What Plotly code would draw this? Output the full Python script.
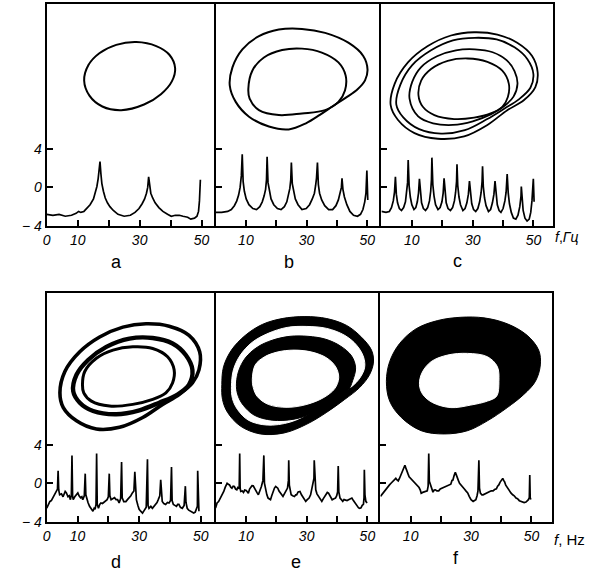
import plotly.graph_objects as go

W, H = 590, 582

# ---------------- spectra: (f [Hz], log amplitude) ----------------
spec_a = [(0,-2.8),(2,-2.9),(4,-2.8),(6,-3.0),(8,-2.9),(9.5,-2.7),(10.3,-2.5),(11,-2.6),(12,-2.5),(13,-2.2),
          (14,-1.8),(15.1,-1.2),(15.8,-0.5),(16.2,0.1),(16.6,0.9),(16.9,1.8),(17.2,2.7),(17.5,1.4),(17.8,0.4),
          (18.3,-0.4),(18.9,-1.1),(19.6,-1.6),(20.4,-2.0),(21.5,-2.4),(23,-2.8),(25,-3.0),(27,-2.9),(28.5,-2.6),
          (29.8,-2.2),(30.8,-1.7),(31.6,-1.2),(32.2,-0.6),(32.6,0.0),(32.9,1.1),(33.2,0.0),(33.6,-0.6),(34.2,-1.1),
          (35,-1.6),(36.2,-2.1),(37.5,-2.5),(39,-2.8),(40.2,-3.0),(41.5,-2.9),(42.8,-2.9),(44,-3.0),(45.5,-3.1),
          (46.5,-3.3),(47.7,-3.2),(48.5,-3.0),(49,-2.5),(49.3,-1.4),(49.6,0.8)]

spec_b = [(0,-2.6),(2,-2.6),(4,-2.5),(5.2,-2.3),(6.2,-1.9),(7.0,-1.4),(7.6,-0.8),(8.1,0.0),(8.5,1.2),(8.8,3.45),
          (9.1,0.6),(9.5,-0.4),(10.1,-1.2),(11,-1.8),(12.3,-2.2),(13.5,-2.3),(14.6,-2.0),(15.4,-1.5),(16.0,-0.9),
          (16.5,-0.2),(16.8,0.8),(17.0,3.2),(17.3,0.5),(17.7,-0.4),(18.3,-1.2),(19.2,-1.8),(20.4,-2.2),(21.6,-2.3),
          (22.7,-2.0),(23.5,-1.5),(24.1,-0.8),(24.5,-0.1),(24.8,0.8),(25.0,2.6),(25.3,0.4),(25.7,-0.4),(26.3,-1.2),
          (27.2,-1.8),(28.5,-2.3),(29.9,-2.2),(31.0,-1.8),(31.9,-1.2),(32.6,-0.6),(33.0,0.2),(33.3,1.0),(33.6,2.6),
          (33.9,0.3),(34.3,-0.6),(35,-1.3),(36,-1.9),(37.3,-2.3),(38.6,-2.3),(39.7,-1.9),(40.5,-1.3),(41.1,-0.6),
          (41.5,0.0),(41.7,0.95),(42.0,-0.2),(42.5,-1.0),(43.3,-1.8),(44.3,-2.5),(45.5,-2.9),(46.8,-3.0),(47.8,-2.8),
          (48.6,-2.3),(49.2,-1.5),(49.6,-0.6),(49.9,1.75),(50.2,-1.3)]

spec_c = [(0,-2.5),(1.5,-2.6),(2.6,-2.5),(3.3,-2.1),(3.9,-1.4),(4.3,-0.5),(4.6,1.1),(4.9,-0.7),(5.3,-1.6),(5.9,-2.2),
          (6.6,-2.4),(7.3,-2.1),(7.9,-1.5),(8.3,-0.6),(8.6,0.5),(8.8,2.85),(9.1,0.2),(9.5,-1.0),(10.0,-1.8),(10.7,-2.3),
          (11.3,-2.1),(11.8,-1.5),(12.2,-0.6),(12.5,0.9),(12.8,-0.7),(13.2,-1.6),(13.8,-2.2),(14.5,-2.4),
          (15.2,-2.1),(15.8,-1.4),(16.2,-0.4),(16.45,0.8),(16.6,3.1),(16.9,0.3),(17.3,-0.9),(17.8,-1.8),(18.6,-2.3),
          (19.3,-2.1),(19.9,-1.5),(20.3,-0.6),(20.6,0.95),(20.9,-0.7),(21.3,-1.6),(21.9,-2.2),(22.7,-2.4),
          (23.4,-2.1),(24.0,-1.4),(24.4,-0.5),(24.7,0.6),(24.85,2.4),(25.1,0.2),(25.5,-1.0),(26.0,-1.8),(26.8,-2.4),
          (27.5,-2.2),(28.1,-1.6),(28.6,-0.7),(28.95,0.65),(29.3,-0.8),(29.7,-1.7),(30.3,-2.3),(31.0,-2.5),
          (31.7,-2.2),(32.3,-1.5),(32.8,-0.5),(33.1,0.6),(33.25,2.2),(33.5,0.1),(33.9,-1.1),(34.4,-1.9),(35.2,-2.5),
          (35.9,-2.3),(36.5,-1.6),(37.0,-0.7),(37.35,0.65),(37.7,-0.9),(38.1,-1.8),(38.7,-2.4),(39.3,-2.6),
          (40.0,-2.2),(40.6,-1.4),(41.0,-0.5),(41.35,1.4),(41.7,-0.6),(42.1,-1.7),(42.7,-2.6),(43.4,-3.2),(44.2,-3.3),
          (44.9,-2.9),(45.5,-2.0),(45.9,-0.9),(46.0,0.1),(46.2,-1.2),(46.6,-2.4),(47.2,-3.2),(47.9,-3.5),(48.6,-3.3),
          (49.1,-2.6),(49.5,-1.4),(49.8,-0.2),(49.95,0.9),(50.2,-1.5)]

spec_d = [(0,-2.6),(0.5,-2.3),(1.0,-1.9),(1.5,-1.8),(2.0,-1.5),(2.6,-1.3),(3.1,-1.0),(3.5,-0.6),(3.7,1.3),(3.9,-0.7),
          (4.2,-1.2),(4.8,-1.1),(5.3,-1.4),(5.7,-1.0),(6.0,-0.85),(6.4,-1.0),(6.9,-1.4),(7.3,-1.3),(7.7,-1.7),(8.0,-1.2),
          (8.2,2.9),(8.4,-1.3),(8.6,-1.7),(9.1,-1.4),(9.6,-1.2),(10.1,-1.0),(10.5,-1.3),(11.0,-1.5),(11.4,-1.4),
          (11.7,-1.7),(12.2,-1.3),(12.5,1.0),(12.7,-1.2),(13.0,-1.7),(13.4,-2.0),(13.9,-2.4),(14.4,-2.7),(15.0,-2.9),
          (15.4,-2.6),(15.7,-2.7),(16.0,-2.2),(16.2,3.1),(16.4,-2.2),(16.8,-2.6),(17.2,-2.2),(17.6,-2.05),(18.1,-2.1),
          (18.7,-1.9),(19.2,-1.8),(19.6,-1.7),(20.0,-1.4),(20.3,1.0),(20.5,-1.3),(20.9,-1.7),(21.4,-1.6),(22.0,-1.5),
          (22.5,-1.7),(23.0,-1.7),(23.5,-2.05),(24.0,-1.6),(24.3,2.2),(24.5,-1.5),(25.0,-1.9),(25.7,-1.9),(26.2,-1.7),
          (26.8,-1.5),(27.3,-1.3),(27.8,-1.0),(28.3,-0.8),(28.6,1.2),(28.8,-1.0),(29.1,-1.7),(29.6,-2.3),(30.0,-2.7),
          (30.5,-2.9),(31.1,-3.1),(31.5,-2.9),(31.8,-2.7),(32.3,-2.5),(32.7,2.5),(32.9,-2.3),(33.2,-2.6),(33.8,-2.4),
          (34.3,-2.6),(34.9,-2.4),(35.4,-2.2),(35.8,-2.0),(36.2,-1.7),(36.7,-1.3),(37.0,0.35),(37.2,-1.4),(37.5,-1.9),
          (38.0,-2.1),(38.6,-2.2),(39.2,-2.0),(39.7,-2.05),(40.2,-1.8),(40.5,1.7),(40.7,-1.8),(41.1,-2.2),(41.6,-2.3),
          (42.1,-2.4),(42.5,-2.2),(42.9,-2.2),(43.4,-2.5),(44.0,-2.6),(44.6,-2.3),(45.0,-0.3),(45.2,-2.0),(45.6,-2.6),
          (46.1,-2.8),(46.7,-2.9),(47.2,-3.0),(47.7,-3.1),(48.2,-3.0),(48.6,-2.7),(48.9,-2.4),(49.0,1.3),(49.2,-2.6),
          (49.4,-2.9)]

spec_e = [(0,-2.56),(0.5,-2.05),(1.0,-1.9),(1.6,-1.54),(2.2,-1.2),(2.7,-0.85),(3.2,-0.4),(3.8,0.0),(4.2,-0.1),
          (4.6,-0.17),(5.0,-0.4),(5.4,-0.51),(5.8,-0.3),(6.2,-0.34),(6.6,-0.6),(7.0,-0.68),(7.3,-0.45),(7.6,-0.51),
          (7.8,-0.3),(7.95,3.1),(8.1,-0.5),(8.3,-0.85),(8.8,-0.8),(9.2,-0.96),(9.6,-0.7),(10.1,-0.75),(10.5,-0.9),
          (10.8,-1.03),(11.2,-0.6),(11.6,-0.34),(12.0,-0.25),(12.4,-0.27),(12.9,-0.5),(13.3,-0.68),(13.7,-1.0),
          (14.1,-1.2),(14.6,-0.8),(15.1,-0.34),(15.6,0.3),(15.9,2.9),(16.1,0.0),(16.5,-0.68),(16.9,-1.2),(17.3,-1.54),
          (17.7,-1.6),(18.1,-1.71),(18.5,-1.3),(18.9,-0.85),(19.4,-0.5),(19.8,-0.34),(20.2,-0.4),(20.5,-0.51),
          (20.9,-0.8),(21.3,-1.03),(21.8,-1.2),(22.2,-1.37),(22.7,-1.1),(23.3,-0.85),(23.7,-0.5),(24.0,0.3),(24.1,2.4),
          (24.3,-0.2),(24.6,-0.9),(24.9,-1.2),(25.4,-1.3),(26.0,-1.37),(26.4,-1.2),(26.7,-1.2),(27.2,-0.9),(27.8,-0.85),
          (28.3,-1.2),(28.7,-1.37),(29.2,-1.6),(29.7,-1.88),(30.2,-1.7),(30.8,-1.54),(31.3,-1.2),(31.7,-0.68),
          (32.1,-0.2),(32.4,0.5),(32.5,2.4),(32.7,0.3),(33.0,-0.68),(33.4,-1.1),(33.9,-1.37),(34.4,-1.6),(35.0,-1.88),
          (35.5,-1.6),(36.0,-1.37),(36.4,-1.1),(36.8,-0.96),(37.2,-1.03),(37.5,-1.2),(38.0,-1.5),(38.4,-1.71),
          (39.0,-1.6),(39.5,-1.54),(39.9,-1.3),(40.2,-0.9),(40.4,1.8),(40.6,-0.9),(41.0,-1.54),(41.5,-1.7),(41.9,-1.88),
          (42.3,-1.7),(42.7,-1.71),(43.3,-1.8),(43.8,-1.71),(44.4,-1.6),(44.9,-1.54),(45.4,-1.8),(45.9,-2.05),
          (46.5,-2.4),(47.1,-2.56),(47.5,-2.6),(47.9,-2.56),(48.3,-2.3),(48.7,-2.2),(48.9,-1.5),(49.0,1.4),(49.2,-1.2),
          (49.5,-1.88),(49.9,-2.05)]

spec_f = [(0,-1.37),(0.4,-1.2),(0.8,-1.03),(1.3,-0.8),(1.9,-0.51),(2.4,-0.3),(3.0,-0.17),(3.5,0.0),(4.05,0.17),
          (4.6,0.3),(5.1,0.51),(5.5,0.35),(5.9,0.24),(6.3,0.5),(6.8,0.85),(7.2,1.1),(7.65,1.6),(8.1,1.88),(8.4,1.6),
          (8.7,1.26),(9.1,1.0),(9.5,0.68),(9.9,0.55),(10.3,0.34),(10.7,0.3),(11.1,0.17),(11.5,0.0),(12.0,-0.17),
          (12.4,-0.3),(12.8,-0.44),(13.2,-0.7),(13.5,-1.03),(14.0,-0.95),(14.4,-0.92),(15.0,-0.85),(15.5,-0.79),
          (15.8,-0.3),(16.0,3.1),(16.2,0.2),(16.6,-0.17),(17.0,-0.6),(17.4,-0.92),(17.8,-0.7),(18.2,-0.68),(18.7,-0.8),
          (19.3,-0.79),(19.8,-0.6),(20.4,-0.51),(21.0,-0.45),(21.5,-0.34),(22.1,-0.2),(22.6,-0.17),(23.0,-0.1),
          (23.3,-0.1),(23.7,0.3),(24.0,0.34),(24.4,0.8),(24.8,1.13),(25.1,0.9),(25.3,0.68),(25.8,0.3),(26.2,0.0),
          (26.8,-0.2),(27.3,-0.34),(27.8,-0.6),(28.3,-0.79),(28.9,-1.0),(29.4,-1.37),(30.0,-1.7),(30.7,-1.88),
          (31.2,-1.8),(31.6,-1.71),(32.0,-1.3),(32.3,-0.8),(32.6,2.39),(32.8,-0.5),(33.1,-1.03),(33.6,-1.2),(34.0,-1.2),
          (34.5,-1.1),(35.1,-1.03),(35.6,-0.95),(36.2,-0.85),(36.7,-0.8),(37.3,-0.79),(37.8,-0.65),(38.4,-0.58),
          (38.8,-0.3),(39.2,-0.17),(39.6,0.1),(40.0,0.24),(40.5,0.51),(40.8,0.3),(41.1,0.17),(41.5,-0.2),(41.8,-0.34),
          (42.2,-0.6),(42.7,-0.85),(43.2,-1.0),(43.8,-1.2),(44.3,-1.3),(44.9,-1.54),(45.4,-1.6),(46.0,-1.81),
          (46.5,-1.85),(47.1,-1.95),(47.6,-2.0),(48.2,-1.95),(48.6,-1.85),(49.0,-1.71),(49.3,-1.5),(49.45,0.85),
          (49.6,-1.5),(49.8,-1.7)]

# ---------------- phase portraits (phase-plane units of each panel) ----------------
loop_a = [(80.7,81.7),(85,66),(96,54),(113,45.5),(133.3,42.7),(153.3,46.7),(166.5,55.5),(172.3,69),
          (169,82.5),(158,95.5),(141,106),(118,111.7),(99,108),(86,97)]

loop_b1 = [(227.3,86.7),(230,68.3),(240,50),(256.7,36.7),(276.7,30),(300,29.3),(323.3,33.3),(346.7,43.3),
           (361.7,56.7),(366,70.5),(363.5,81.5),(356,90.5),(345,98.5),(332,107),(318,116.5),(304,125),(286.7,131.2),
           (266.7,128.3),(246.7,118.3),(233.3,103.3)]
loop_b2 = [(246,90),(250,71.7),(261.7,58.3),(280,50.7),(300,49.3),(320,53.3),(336.7,63.3),(344,76.7),
           (343.3,91.7),(336.7,103.3),(323.3,111.7),(300,115),(276.7,116.7),(256.7,111.7),(247.3,100)]

loop_c1 = [(389.3,106.7),(393.3,85),(406.7,63.3),(426.7,46.7),(450,36),(473.3,32.7),(496.7,35),(516.7,43.3),
           (531.7,56.7),(537.3,73.3),(535,88.3),(523.3,101.7),(506.7,111.7),(486.7,126.7),(463.3,138.3),
           (436.7,140.7),(413.3,135),(396.7,121.7)]
loop_c2 = [(395,106),(399,86),(411,66),(430,51),(452,41),(474,38.3),(496,40),(514,48),(527,60),(533,75),
           (530,89),(518,101),(504,110),(486,121),(464,132),(440,135.5),(418,131),(402,119)]
loop_c3 = [(408.3,100),(411,83),(420,68),(436,57),(455,51),(474,50),(492,53),(506,61),(514,72),(517,85),
           (513,98),(503,108),(490,116),(472,123),(452,126.7),(432,125),(417,118)]
loop_c4 = [(417.3,96.7),(420,81.7),(430,70),(446.7,61.7),(466.7,59.3),(486.7,62.7),(501.7,71.7),(508.3,85),
           (507.3,98.3),(501.7,108.3),(490,115),(473.3,119.3),(453.3,120.7),(433.3,116.7),(421.7,108.3)]

loop_d1 = [(56.3,398.3),(61.3,376.7),(76.3,356.7),(96.3,341.7),(119.7,331.7),(143,328.3),(166.3,330.7),
           (186.3,340),(197,356.7),(196.3,375),(189.7,388.3),(176.3,400),(159.7,410),(139.7,423.3),
           (116.3,433.3),(93,435),(73,426.7),(59.7,413.3)]
loop_d2 = [(69.7,396.7),(73,380),(84.7,365),(103,351.7),(126.3,343.3),(149.7,342.7),(169.7,348.3),(183,360),
           (189.7,375),(186.3,390),(174.7,400),(156.3,408.3),(136.3,416),(113,420),(89.7,416.7),(76.3,408.3)]
loop_d3 = [(79,390),(81.3,376.7),(93,363.3),(109.7,355),(129.7,351.7),(149.7,353.3),(164.7,361.7),(171.3,375),
           (169.7,388.3),(163,398.3),(149.7,405),(129.7,410),(106.3,411.7),(88,406.7),(80.3,398.3)]

band_e_outer = [(219.3,390),(221,372),(229,355),(243,340),(260,329),(280,323),(303,321),(325,323),(345,330),
                (360,342),(370,355),(372,367),(368,380),(358,393),(343,405),(325,418),(305,430),(282,439),
                (258,440),(238,432),(225,418),(220,405)]
band_e_gap = [(229,392),(231,375),(238,360),(250,347),(266,338),(285,332),(305,331),(325,333),(343,340),
              (355,350),(362,362),(363,373),(357,385),(345,396),(330,406),(310,418),(288,428),(265,431),
              (246,426),(235,415),(230,404)]
band_e_inner = [(234,392),(236,377),(243,363),(255,352),(270,345),(288,341),(306,341),(324,344),(339,351),
                (350,361),(354,373),(351,386),(346,397),(333,408),(314,418),(292,425),(270,426),(252,421),
                (241,411),(236,402)]
band_e_hole = [(250,385),(253,370),(262,362),(275,357),(292,355),(310,357),(325,363),(334,372),(337,383),
               (333,394),(322,403),(305,410),(285,413),(266,410),(255,402),(251,393)]

band_f_outer = [(385,386.7),(388.3,366.7),(398.3,348.3),(415,333.3),(436.7,325),(460,321.7),(483.3,322.3),
                (506.7,328.3),(526.7,340),(538.3,355),(540,370),(535,386.7),(523.3,400),(506.7,413.3),
                (486.7,426.7),(466.7,436.7),(443.3,440),(420,436.7),(400,423.3),(388.3,406.7)]
band_f_hole = [(418.3,390),(420.7,378.3),(430,366.7),(446.7,360),(466.7,358.3),(486.7,361.7),(496.7,371.7),
               (498.3,386.7),(496,401.7),(486.7,406.7),(470,410.7),(450,413.3),(431.7,408.3),(421.7,400)]

# ---------------- panel layout (pixel frame of each panel) ----------------
panels = [
    dict(key="a", x0=43, x1=213, top=4, bot=229, fmax=54.5, vmax=19.1, spec=spec_a, first=True, last=False),
    dict(key="b", x0=213, x1=380, top=4, bot=229, fmax=54.7, vmax=19.1, spec=spec_b, first=False, last=False),
    dict(key="c", x0=380, x1=553, top=4, bot=229, fmax=56.5, vmax=19.1, spec=spec_c, first=False, last=True),
    dict(key="d", x0=43, x1=213, top=297, bot=529, fmax=54.8, vmax=19.8, spec=spec_d, first=True, last=False),
    dict(key="e", x0=213, x1=379, top=297, bot=529, fmax=54.3, vmax=19.8, spec=spec_e, first=False, last=False),
    dict(key="f", x0=379, x1=552, top=297, bot=529, fmax=56.9, vmax=19.8, spec=spec_f, first=False, last=True),
]

portraits = {
    "a": [("line", loop_a, 2.0)],
    "b": [("line", loop_b1, 2.0), ("line", loop_b2, 2.0)],
    "c": [("line", loop_c1, 1.8), ("line", loop_c2, 1.8), ("line", loop_c3, 1.8), ("line", loop_c4, 1.8)],
    "d": [("line", loop_d1, 3.6), ("line", loop_d2, 4.4), ("line", loop_d3, 3.0)],
    "e": [("black", band_e_outer, 0), ("white", band_e_gap, 0), ("black", band_e_inner, 0), ("white", band_e_hole, 0)],
    "f": [("black", band_f_outer, 0), ("white", band_f_hole, 0)],
}

letter_pos = {"a": (113, 266), "b": (287, 266), "c": (457, 265),
              "d": (113, 570), "e": (294, 570), "f": (455, 566)}

TICKFONT = dict(family="Liberation Sans", size=14, color="black", style="italic")

fig = go.Figure()
layout = {}
for i, p in enumerate(panels, start=1):
    j = i + 6
    xd = [p["x0"] / W, p["x1"] / W]
    yd = [1 - p["bot"] / H, 1 - p["top"] / H]
    f, v = zip(*p["spec"])
    fig.add_trace(go.Scatter(x=f, y=v, mode="lines", xaxis=f"x{i}", yaxis=f"y{i}",
                             line=dict(color="black", width=1.7), showlegend=False, hoverinfo="skip"))
    if p["first"]:
        xt, xl = [0, 10, 20, 30, 40, 50], ["0", "10", "", "30", "", "50"]
    else:
        xt, xl = [10, 20, 30, 40, 50], ["10", "", "30", "", "50"]
    layout[f"xaxis{i}"] = dict(domain=xd, anchor=f"y{i}", range=[0, p["fmax"]], showline=True, linecolor="black",
                               linewidth=2, mirror=True, ticks="inside", ticklen=6, tickwidth=1.5, tickcolor="black",
                               tickvals=xt, ticktext=xl, tickfont=TICKFONT, showgrid=False, zeroline=False,
                               fixedrange=True)
    layout[f"yaxis{i}"] = dict(domain=yd, anchor=f"x{i}", range=[-4, p["vmax"]], showline=True, linecolor="black",
                               linewidth=2, mirror="allticks" if False else p["last"], ticks="inside", ticklen=6,
                               tickwidth=1.5, tickcolor="black",
                               tickvals=[4, 0, -4], ticktext=["4", "0", "\u2212 4"], showticklabels=p["first"],
                               tickfont=TICKFONT, showgrid=False, zeroline=False, fixedrange=True)
    # phase-portrait axes (no visible axes)
    layout[f"xaxis{j}"] = dict(domain=xd, anchor=f"y{j}", range=[p["x0"], p["x1"]], visible=False, fixedrange=True)
    layout[f"yaxis{j}"] = dict(domain=yd, anchor=f"x{j}", range=[p["bot"], p["top"]], visible=False, fixedrange=True)
    for kind, pts, lw in portraits[p["key"]]:
        px, py = zip(*(pts + [pts[0]]))
        if kind == "line":
            fig.add_trace(go.Scatter(x=px, y=py, mode="lines", xaxis=f"x{j}", yaxis=f"y{j}",
                                     line=dict(color="black", width=lw, shape="spline", smoothing=1.0),
                                     showlegend=False, hoverinfo="skip"))
        else:
            fig.add_trace(go.Scatter(x=px, y=py, mode="lines", xaxis=f"x{j}", yaxis=f"y{j}", fill="toself",
                                     fillcolor=kind, line=dict(color=kind, width=1, shape="spline", smoothing=1.0),
                                     showlegend=False, hoverinfo="skip"))

annotations = []
for k, (lx, ly) in letter_pos.items():
    annotations.append(dict(text=k, x=lx / W, y=1 - ly / H, xref="paper", yref="paper", showarrow=False,
                            xanchor="center", yanchor="middle",
                            font=dict(family="Liberation Sans", size=18, color="black")))
annotations.append(dict(text="<i>f</i>,<i>Гц</i>", x=553 / W, y=1 - 240 / H, xref="paper", yref="paper",
                        showarrow=False, xanchor="left", yanchor="middle",
                        font=dict(family="Liberation Sans", size=14, color="black")))
annotations.append(dict(text="<i>f</i>, Hz", x=552 / W, y=1 - 547 / H, xref="paper", yref="paper",
                        showarrow=False, xanchor="left", yanchor="middle",
                        font=dict(family="Liberation Sans", size=15, color="black")))

fig.update_layout(width=W, height=H, margin=dict(l=0, r=0, t=0, b=0), paper_bgcolor="white",
                  plot_bgcolor="rgba(0,0,0,0)", showlegend=False, annotations=annotations, **layout)

fig.write_html("out.html")
